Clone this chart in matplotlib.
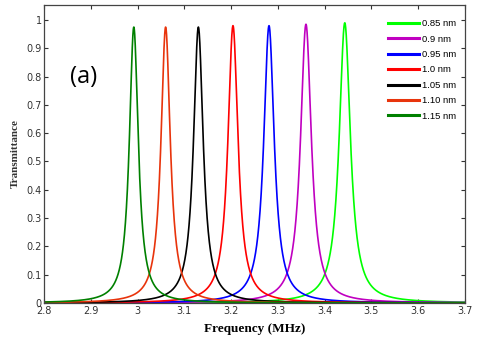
import numpy as np
import matplotlib
matplotlib.use('Agg')
import matplotlib.pyplot as plt

# peak data
labels = ['0.85 nm', '0.9 nm', '0.95 nm', '1.0 nm', '1.05 nm', '1.10 nm', '1.15 nm']
centers = [3.443, 3.360, 3.281, 3.204, 3.130, 3.060, 2.992]   # MHz
peaks = [0.99, 0.985, 0.98, 0.98, 0.975, 0.975, 0.975]
widths = [0.0145, 0.014, 0.0135, 0.013, 0.0125, 0.012, 0.0115]  # half width at half max, MHz
colors = ['#00ff00', '#c000c0', '#0000ff', '#ff0000', '#000000', '#e8340c', '#008000']

xticks = [2.8, 2.9, 3.0, 3.1, 3.2, 3.3, 3.4, 3.5, 3.6, 3.7]
xticklabels = ['2.8', '2.9', '3', '3.1', '3.2', '3.3', '3.4', '3.5', '3.6', '3.7']
yticks = [0, 0.1, 0.2, 0.3, 0.4, 0.5, 0.6, 0.7, 0.8, 0.9, 1]
yticklabels = ['0', '0.1', '0.2', '0.3', '0.4', '0.5', '0.6', '0.7', '0.8', '0.9', '1']

f = np.linspace(2.8, 3.7, 3000)

fig = plt.figure(figsize=(4.8, 3.39), dpi=100)
ax = fig.add_axes([44/480, 1-303/339, (465-44)/480, (303-5)/339])

for lab, c0, a, g, col in zip(labels, centers, peaks, widths, colors):
    t = a / (1 + ((f - c0) / g) ** 2)
    ax.plot(f, t, color=col, lw=1.2, label=lab)

ax.set_xlim(2.8, 3.7)
ax.set_ylim(0, 1.053)
ax.set_xticks(xticks)
ax.set_xticklabels(xticklabels)
ax.set_yticks(yticks)
ax.set_yticklabels(yticklabels)
ax.tick_params(direction='in', top=True, right=True, length=3, width=0.8,
               labelsize=7, colors='#333333', labelcolor='#333333', pad=1.5)
ax.tick_params(axis='x', pad=2.5)
for s in ax.spines.values():
    s.set_color('#444444')
    s.set_linewidth(0.9)

ax.set_xlabel('Frequency (MHz)', fontfamily='Liberation Serif', fontweight='bold',
              fontsize=9.5, labelpad=5)
ax.set_ylabel('Transmittance', fontfamily='Liberation Serif', fontweight='bold',
              fontsize=8, color='#333333', labelpad=5)

ax.text(2.885, 0.80, '(a)', fontfamily='Open Sans', fontsize=17, ha='center', va='center')

leg = ax.legend(loc='upper right', bbox_to_anchor=(1 - 3/421, 1 - 8.5/298),
                frameon=False, handlelength=3.3, handletextpad=0.3,
                labelspacing=0.68, borderaxespad=0, borderpad=0.6,
                prop={'family': 'Liberation Sans', 'size': 6.8})
for line in leg.get_lines():
    line.set_linewidth(2.2)

fig.savefig('out.png', dpi=100)
